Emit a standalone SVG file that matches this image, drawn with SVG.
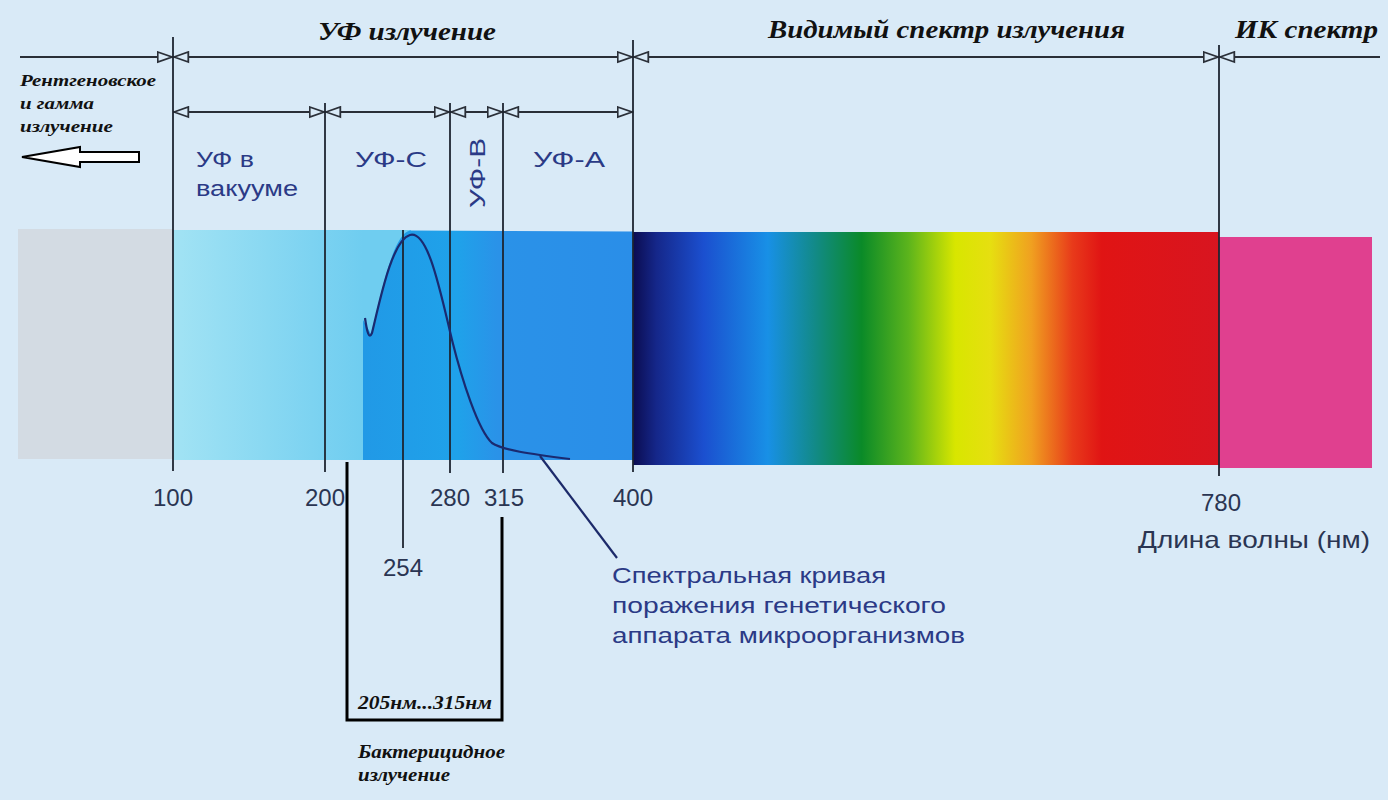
<svg xmlns="http://www.w3.org/2000/svg" width="1388" height="800" viewBox="0 0 1388 800">
<defs>
<style>
.ti{font-family:"Liberation Serif",serif;font-weight:bold;font-style:italic;fill:#111;}
.bl{font-family:"Liberation Sans",Arial,sans-serif;fill:#2b3a86;font-size:22px;}
.nm{font-family:"Liberation Sans",Arial,sans-serif;fill:#2a3552;font-size:24px;}
.ln{stroke:#2a2f38;stroke-width:1.8;fill:none;}
.vl{stroke:#1e2530;stroke-width:1.8;fill:none;}
.br{stroke:#000;stroke-width:3;fill:none;}
</style>
<marker id="ah" viewBox="0 0 17 13" refX="16.5" refY="6.5" markerWidth="17" markerHeight="13" markerUnits="userSpaceOnUse" orient="auto-start-reverse">
<path d="M1.2,1.5 L15.5,6.5 L1.2,11.5 Z" fill="#d9eaf7" stroke="#2a2f38" stroke-width="1.8"/>
</marker>
<linearGradient id="gCyan" x1="173" x2="363" y1="0" y2="0" gradientUnits="userSpaceOnUse">
<stop offset="0" stop-color="#a2e3f4"/>
<stop offset="1" stop-color="#6fcdf0"/>
</linearGradient>
<linearGradient id="gBlue" x1="363" x2="633" y1="0" y2="0" gradientUnits="userSpaceOnUse">
<stop offset="0" stop-color="#2199e6"/>
<stop offset="0.35" stop-color="#1fa2ea"/>
<stop offset="0.5" stop-color="#2a92e8"/>
<stop offset="1" stop-color="#2a8ee8"/>
</linearGradient>
<linearGradient id="gVis" x1="633" x2="1219" y1="0" y2="0" gradientUnits="userSpaceOnUse">
<stop offset="0" stop-color="#0b0c50"/>
<stop offset="0.04" stop-color="#15278a"/>
<stop offset="0.12" stop-color="#1b4fcf"/>
<stop offset="0.23" stop-color="#1890e6"/>
<stop offset="0.31" stop-color="#128a88"/>
<stop offset="0.39" stop-color="#0a8a28"/>
<stop offset="0.47" stop-color="#5cb41c"/>
<stop offset="0.55" stop-color="#d8e600"/>
<stop offset="0.61" stop-color="#e6df10"/>
<stop offset="0.68" stop-color="#f0a020"/>
<stop offset="0.75" stop-color="#e83a1a"/>
<stop offset="0.8" stop-color="#e01414"/>
<stop offset="1" stop-color="#d81520"/>
</linearGradient>
</defs>
<rect x="0" y="0" width="1388" height="800" fill="#d9eaf7"/>

<g id="spectrum">
<rect x="18" y="229" width="155" height="230" fill="#d3dbe3"/>
<rect x="173" y="230" width="238" height="230" fill="url(#gCyan)"/>
<path d="M363,460 L363,320 L371,334 C380,300 392,234 410,230.5 L633,231.5 L633,460 Z" fill="url(#gBlue)"/>
<rect x="633" y="232" width="586" height="233" fill="url(#gVis)"/>
<rect x="1219" y="237" width="153" height="231" fill="#e0408f"/>
</g>

<g id="connectors">
<line class="ln" x1="20" y1="57" x2="173" y2="57" marker-end="url(#ah)"/>
<line class="ln" x1="173" y1="57" x2="633" y2="57" marker-start="url(#ah)" marker-end="url(#ah)"/>
<line class="ln" x1="633" y1="57" x2="1219" y2="57" marker-start="url(#ah)" marker-end="url(#ah)"/>
<line class="ln" x1="1219" y1="57" x2="1380" y2="57" marker-start="url(#ah)"/>
<line class="ln" x1="173" y1="112" x2="325" y2="112" marker-start="url(#ah)" marker-end="url(#ah)"/>
<line class="ln" x1="325" y1="112" x2="450" y2="112" marker-start="url(#ah)" marker-end="url(#ah)"/>
<line class="ln" x1="450" y1="112" x2="503" y2="112" marker-start="url(#ah)" marker-end="url(#ah)"/>
<line class="ln" x1="503" y1="112" x2="633" y2="112" marker-start="url(#ah)" marker-end="url(#ah)"/>
<line class="vl" x1="173" y1="37" x2="173" y2="471"/>
<line class="vl" x1="633" y1="40" x2="633" y2="472"/>
<line class="vl" x1="1219" y1="45" x2="1219" y2="476"/>
<line class="vl" x1="325" y1="103" x2="325" y2="472"/>
<line class="vl" x1="450" y1="103" x2="450" y2="473"/>
<line class="vl" x1="503" y1="103" x2="503" y2="473"/>
<line class="vl" x1="403" y1="230" x2="403" y2="548"/>
<path d="M365,318 C367,332 369,340 372,333 C380,300 392,240 410,235 C428,230 440,290 452,340 C462,380 478,430 492,443 C502,450 530,454 570,459" fill="none" stroke="#1a2a70" stroke-width="2.2"/>
<line x1="540" y1="456" x2="617" y2="558" stroke="#1c2a6a" stroke-width="2.2"/>
<polyline class="br" points="347,462 347,720 502,720 502,517"/>
<polygon points="22,157 80,147 80,152 139,152 139,162 80,162 80,167" fill="#ffffff" stroke="#000" stroke-width="2"/>
</g>

<g id="titles">
<text class="ti" x="318" y="40" font-size="25" textLength="178" lengthAdjust="spacingAndGlyphs">УФ излучение</text>
<text class="ti" x="768" y="38" font-size="25" textLength="357" lengthAdjust="spacingAndGlyphs">Видимый спектр излучения</text>
<text class="ti" x="1235" y="38" font-size="25" textLength="143" lengthAdjust="spacingAndGlyphs">ИК спектр</text>
</g>

<g id="xray">
<text class="ti" x="20" y="86" font-size="17" textLength="136" lengthAdjust="spacingAndGlyphs">Рентгеновское</text>
<text class="ti" x="20" y="109" font-size="17" textLength="74" lengthAdjust="spacingAndGlyphs">и гамма</text>
<text class="ti" x="20" y="132" font-size="17" textLength="93" lengthAdjust="spacingAndGlyphs">излучение</text>
</g>

<g id="bands">
<text class="bl" x="196" y="167" textLength="58" lengthAdjust="spacingAndGlyphs">УФ в</text>
<text class="bl" x="196" y="196" textLength="102" lengthAdjust="spacingAndGlyphs">вакууме</text>
<text class="bl" x="355" y="167" textLength="72" lengthAdjust="spacingAndGlyphs">УФ-С</text>
<text class="bl" transform="translate(485,208) rotate(-90)" x="0" y="0" textLength="70" lengthAdjust="spacingAndGlyphs">УФ-В</text>
<text class="bl" x="533" y="167" textLength="72" lengthAdjust="spacingAndGlyphs">УФ-А</text>
</g>

<g id="axis">
<text class="nm" x="173" y="506" text-anchor="middle">100</text>
<text class="nm" x="325" y="506" text-anchor="middle">200</text>
<text class="nm" x="450" y="506" text-anchor="middle">280</text>
<text class="nm" x="504" y="506" text-anchor="middle">315</text>
<text class="nm" x="633" y="506" text-anchor="middle">400</text>
<text class="nm" x="1221" y="511" text-anchor="middle">780</text>
<text class="nm" x="403" y="576" text-anchor="middle">254</text>
<text class="nm" x="1138" y="548" font-size="22" textLength="232" lengthAdjust="spacingAndGlyphs">Длина волны (нм)</text>
</g>

<g id="curve-label">
<text class="bl" x="612" y="583" textLength="274" lengthAdjust="spacingAndGlyphs">Спектральная кривая</text>
<text class="bl" x="612" y="613" textLength="334" lengthAdjust="spacingAndGlyphs">поражения генетического</text>
<text class="bl" x="612" y="643" textLength="353" lengthAdjust="spacingAndGlyphs">аппарата микроорганизмов</text>
</g>

<g id="bactericidal">
<text class="ti" x="358" y="709" font-size="18" textLength="134" lengthAdjust="spacingAndGlyphs">205нм...315нм</text>
<text class="ti" x="358" y="758" font-size="18" textLength="147" lengthAdjust="spacingAndGlyphs">Бактерицидное</text>
<text class="ti" x="358" y="781" font-size="18" textLength="92" lengthAdjust="spacingAndGlyphs">излучение</text>
</g>
</svg>
